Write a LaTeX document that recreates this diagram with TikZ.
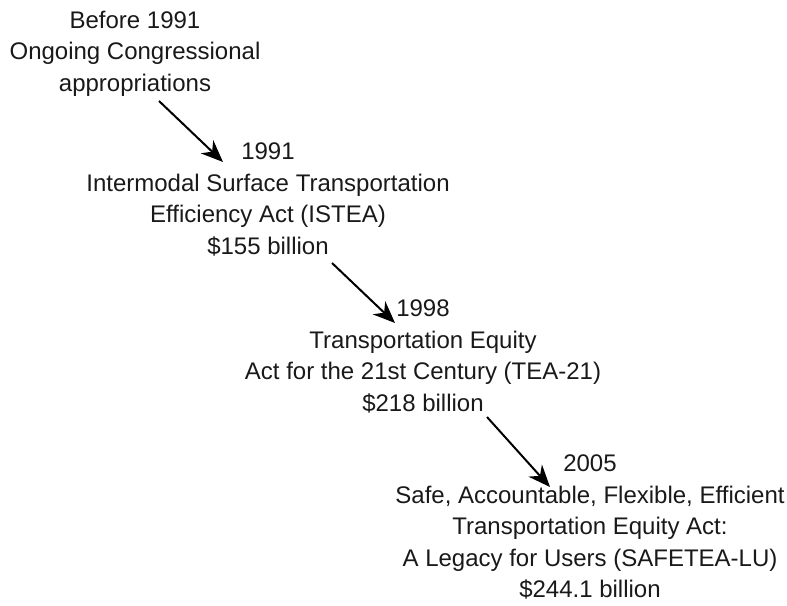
\documentclass[tikz,border=0pt]{standalone}
\usepackage{fontspec}
\setmainfont{Liberation Sans}
\usetikzlibrary{arrows.meta}

\tikzset{
	blk/.style={align=center, anchor=north, inner sep=0pt,
		font=\fontsize{24}{31.5}\selectfont, text=black!90},
	arr/.style={line width=2pt, -{Stealth[length=22pt, width=18pt, inset=7pt]}}
}

\begin{document}
\begin{tikzpicture}[x=1pt, y=-1pt]
	\useasboundingbox (0, 0) rectangle (787, 605);

	% Blocks of the timeline
	\node[blk] (b1) at (135, 10.8) {Before 1991\\Ongoing Congressional\\appropriations};
	\node[blk] (b2) at (268, 142.8) {1991\\Intermodal Surface Transportation\\Efficiency Act (ISTEA)\\\$155 billion};
	\node[blk] (b3) at (423, 299.8) {1998\\Transportation Equity\\Act for the 21st Century (TEA-21)\\\$218 billion};
	\node[blk] (b4) at (590, 454.8) {2005\\Safe, Accountable, Flexible, Efficient\\Transportation Equity Act:\\A Legacy for Users (SAFETEA-LU)\\\$244.1 billion};

	% Arrow ends
	\coordinate (s1) at (159, 101);
	\coordinate (e1) at (223, 162);
	\coordinate (s2) at (332, 263);
	\coordinate (e2) at (395, 323);
	\coordinate (s3) at (487, 417);
	\coordinate (e3) at (550, 487);

	\draw[arr] (s1) -- (e1);
	\draw[arr] (s2) -- (e2);
	\draw[arr] (s3) -- (e3);
\end{tikzpicture}
\end{document}
